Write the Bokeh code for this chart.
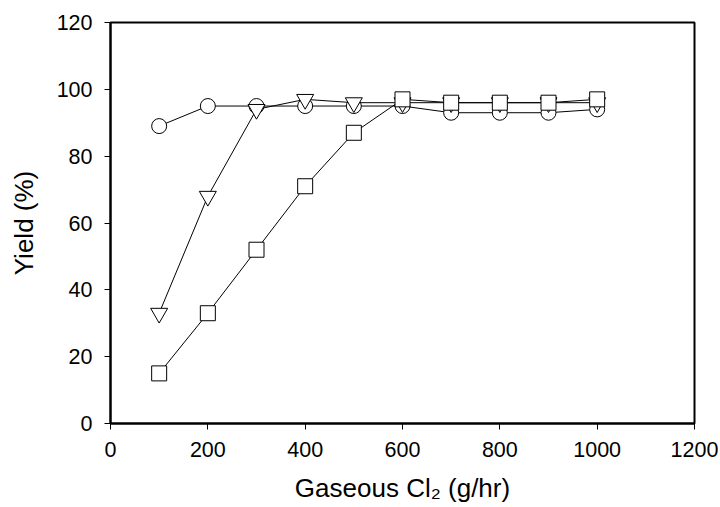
from bokeh.plotting import figure
from bokeh.models import Range1d, FixedTicker
from bokeh.embed import file_html
from bokeh.resources import INLINE

cl2_gph = [100, 200, 300, 400, 500, 600, 700, 800, 900, 1000]
yield_circle = [89, 95, 95, 95, 95, 95, 93, 93, 93, 94]
yield_triangle = [33, 68, 94, 97, 96, 96, 96, 96, 96, 96]
yield_square = [15, 33, 52, 71, 87, 97, 96, 96, 96, 97]
x_ticks = [0, 200, 400, 600, 800, 1000, 1200]
y_ticks = [0, 20, 40, 60, 80, 100, 120]

FONT = "Liberation Sans"

p = figure(width=720, height=507, output_backend="svg", toolbar_location=None,
           x_range=Range1d(0, 1200), y_range=Range1d(0, 120))
p.min_border_left = 110
p.min_border_right = 26
p.min_border_top = 22
p.min_border_bottom = 84
p.background_fill_color = "white"
p.border_fill_color = "white"
p.outline_line_color = "black"
p.outline_line_width = 2
p.xgrid.visible = False
p.ygrid.visible = False

p.xaxis.ticker = FixedTicker(ticks=x_ticks)
p.yaxis.ticker = FixedTicker(ticks=y_ticks)
for ax in (p.xaxis[0], p.yaxis[0]):
    ax.axis_line_color = "black"
    ax.axis_line_width = 2
    ax.major_tick_line_color = "black"
    ax.major_tick_line_width = 1
    ax.major_tick_out = 6
    ax.major_tick_in = 0
    ax.minor_tick_line_color = None
    ax.major_label_text_font = FONT
    ax.major_label_text_font_size = "21.5px"
    ax.major_label_text_color = "black"
    ax.axis_label_text_font = FONT
    ax.axis_label_text_font_size = "26px"
    ax.axis_label_text_font_style = "normal"
    ax.axis_label_text_color = "black"

p.xaxis.major_label_standoff = 12
p.yaxis.major_label_standoff = 12
p.xaxis.axis_label = "Gaseous Cl\u2082 (g/hr)"
p.yaxis.axis_label = "Yield (%)"
p.xaxis.axis_label_standoff = 13
p.yaxis.axis_label_standoff = 15

# circles
p.line(cl2_gph, yield_circle, line_color="black", line_width=1)
p.scatter(cl2_gph, yield_circle, marker="circle", size=15, fill_color="white",
          line_color="black", line_width=1)
# inverted triangles
p.line(cl2_gph, yield_triangle, line_color="black", line_width=1)
p.scatter(cl2_gph, yield_triangle, marker="inverted_triangle", size=17, fill_color="white",
          line_color="black", line_width=1)
# squares
p.line(cl2_gph, yield_square, line_color="black", line_width=1)
p.scatter(cl2_gph, yield_square, marker="square", size=15, fill_color="white",
          line_color="black", line_width=1)

open("out.html", "w").write(file_html(p, INLINE))
